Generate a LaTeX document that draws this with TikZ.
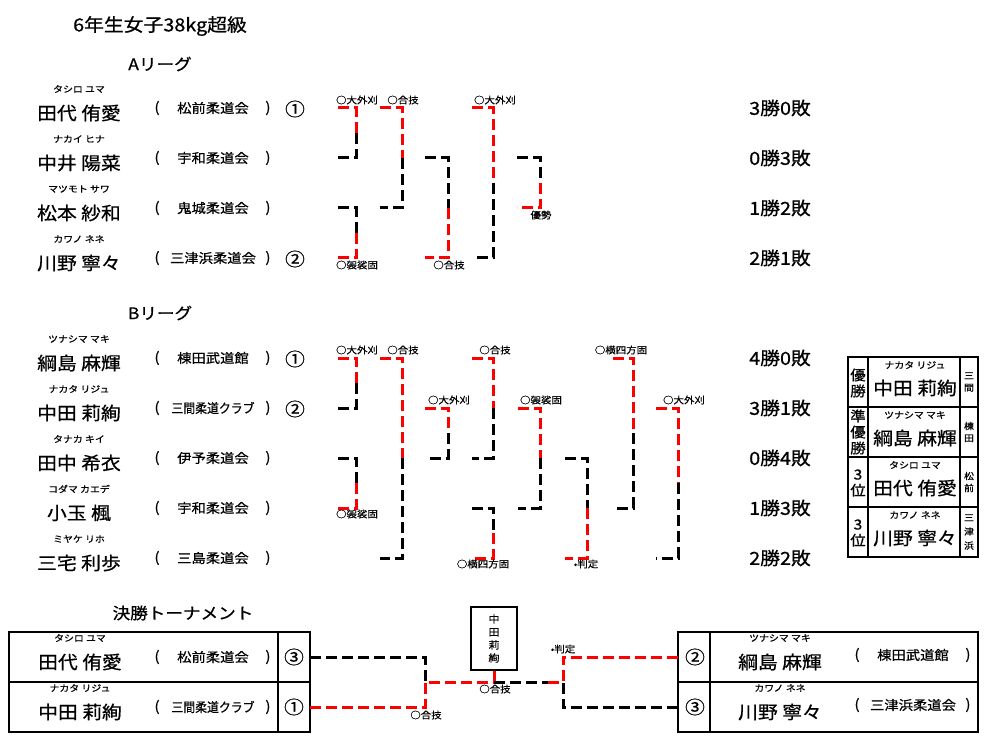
\documentclass[tikz,border=0pt]{standalone}
\usepackage{fontspec}
\setmainfont{Noto Sans CJK JP}[FakeStretch=1.1, FakeBold=0.7]
\usepackage{tikz}
\tikzset{
  winS/.style  ={red,   line width=3pt, dash pattern=on 11pt off 5pt},
  loseS/.style ={black, line width=3pt, dash pattern=on 11pt off 5pt},
  ttl/.style   ={font=\fontsize{18}{18}\selectfont, inner sep=0pt},
  head/.style  ={font=\fontsize{16}{16}\selectfont, inner sep=0pt},
  kana/.style  ={font=\fontsize{9}{9}\selectfont, inner sep=0pt},
  pname/.style ={font=\fontsize{18}{18}\selectfont, inner sep=0pt},
  club/.style  ={font=\fontsize{13}{13}\selectfont, inner sep=0pt},
  paren/.style ={font=\fontsize{14}{14}\selectfont, inner sep=0pt},
  rank/.style  ={font=\fontsize{18}{18}\selectfont, inner sep=0pt},
  score/.style ={font=\fontsize{18}{18}\selectfont, inner sep=0pt},
  waza/.style  ={font=\fontsize{9.5}{9.5}\selectfont, inner sep=0pt},
  vcol/.style  ={font=\fontsize{14}{16}\selectfont, inner sep=0pt, align=center},
  vtiny/.style ={font=\fontsize{9}{12}\selectfont, inner sep=0pt, align=center},
  frame/.style ={draw=black, line width=1.2pt},
}
% one bout: left x, bar x, top y, bottom y
\newcommand{\boutT}[4]{%
  \draw[winS]  (#1,#3) -- (#2,#3) -- (#2,{(#3+#4)/2});
  \draw[loseS] (#2,{(#3+#4)/2}) -- (#2,#4) -- (#1,#4);}
\newcommand{\boutB}[4]{%
  \draw[loseS] (#1,#3) -- (#2,#3) -- (#2,{(#3+#4)/2});
  \draw[winS]  (#2,{(#3+#4)/2}) -- (#2,#4) -- (#1,#4);}
% reading + name, centred at x, club line y
\newcommand{\entrant}[5]{%
  \node[kana]  (#1k) at (#2,#3-19) {#4};
  \node[pname] (#1n) at (#2,#3+5) {#5};}
% club in brackets
\newcommand{\dojo}[4]{%
  \node[paren] (#1po) at (#2-56,#3) {(};
  \node[club]  (#1c)  at (#2,#3) {#4};
  \node[paren] (#1pc) at (#2+55,#3) {)};}

\begin{document}
\begin{tikzpicture}[x=1pt,y=-1pt]
  \useasboundingbox (0,0) rectangle (996,743);
  \fill[white] (0,0) rectangle (996,743);

  \node[ttl]  (title) at (160,26) {6年生女子38kg超級};
  \node[head] (hA) at (160,64) {Aリーグ};
  \node[head] (hB) at (160,313) {Bリーグ};
  \node[head] (hT) at (183,613) {決勝トーナメント};

  % A league
  \entrant{a1}{79}{108}{タシロ ユマ}{田代 侑愛}   \dojo{a1}{213}{108}{松前柔道会}
  \entrant{a2}{79}{158}{ナカイ ヒナ}{中井 陽菜}   \dojo{a2}{213}{158}{宇和柔道会}
  \entrant{a3}{79}{208}{マツモト サワ}{松本 紗和} \dojo{a3}{213}{208}{鬼城柔道会}
  \entrant{a4}{79}{258}{カワノ ネネ}{川野 寧々}   \dojo{a4}{213}{258}{三津浜柔道会}
  \node[rank] (a1rk) at (295,109) {①};
  \node[rank] (a4rk) at (295,259) {②};
  \node[score] (a1s) at (780,108) {3勝0敗};
  \node[score] (a2s) at (780,158) {0勝3敗};
  \node[score] (a3s) at (780,208) {1勝2敗};
  \node[score] (a4s) at (780,258) {2勝1敗};

  \boutT{338}{356}{108}{158} \node[waza] at (357,100) {○大外刈};
  \boutT{380}{402}{108}{208} \node[waza] at (403,100) {○合技};
  \boutB{425}{448}{158}{258} \node[waza] at (449,265) {○合技};
  \boutT{472}{493}{108}{258} \node[waza] at (495,100) {○大外刈};
  \boutB{517}{540}{158}{208} \node[waza] at (541,215) {優勢};
  \boutB{338}{356}{208}{258} \node[waza] at (357,265) {○袈裟固};

  % B league
  \entrant{b1}{79}{358}{ツナシマ マキ}{綱島 麻輝} \dojo{b1}{213}{358}{棟田武道館}
  \entrant{b2}{79}{408}{ナカタ リジュ}{中田 莉絢} \dojo{b2}{213}{408}{\scalebox{0.83}[1]{三間柔道クラブ}}
  \entrant{b3}{79}{458}{タナカ キイ}{田中 希衣}   \dojo{b3}{213}{458}{伊予柔道会}
  \entrant{b4}{79}{508}{コダマ カエデ}{小玉 楓}   \dojo{b4}{213}{508}{宇和柔道会}
  \entrant{b5}{79}{558}{ミヤケ リホ}{三宅 利歩}   \dojo{b5}{213}{558}{三島柔道会}
  \node[rank] (b1rk) at (295,359) {①};
  \node[rank] (b2rk) at (295,409) {②};
  \node[score] (b1s) at (780,358) {4勝0敗};
  \node[score] (b2s) at (780,408) {3勝1敗};
  \node[score] (b3s) at (780,458) {0勝4敗};
  \node[score] (b4s) at (780,508) {1勝3敗};
  \node[score] (b5s) at (780,558) {2勝2敗};

  \boutT{338}{356}{358}{408} \node[waza] at (357,350) {○大外刈};
  \boutT{380}{402}{358}{558} \node[waza] at (403,350) {○合技};
  \boutT{425}{448}{408}{458} \node[waza] at (449,400) {○大外刈};
  \boutT{472}{493}{358}{458} \node[waza] at (495,350) {○合技};
  \boutB{472}{493}{508}{558} \node[waza] at (483,564) {○横四方固};
  \boutT{518}{540}{408}{508} \node[waza] at (541,400) {○袈裟固};
  \boutB{565}{587}{458}{558} \node[waza] at (586,564) {•判定};
  \boutT{613}{633}{358}{508} \node[waza] at (621,350) {○横四方固};
  \boutT{656}{678}{408}{558} \node[waza] at (684,400) {○大外刈};
  \boutB{338}{356}{458}{508} \node[waza] at (357,514) {○袈裟固};

  % placings
  \draw[frame] (848,357) rectangle (978,557);
  \draw[frame] (868,357) -- (868,557);
  \draw[frame] (960,357) -- (960,557);
  \draw[frame] (848,407) -- (978,407);
  \draw[frame] (848,457) -- (978,457);
  \draw[frame] (848,507) -- (978,507);
  \node[vcol] (p1) at (858,383) {優\\勝};
  \node[vcol] (p2) at (858,432) {準\\優\\勝};
  \node[vcol] (p3) at (858,483) {3\\位};
  \node[vcol] (p4) at (858,533) {3\\位};
  \node[kana]  (p1k) at (915,365) {ナカタ リジュ};
  \node[pname] (p1n) at (915,388) {中田 莉絢};
  \node[kana]  (p2k) at (915,415) {ツナシマ マキ};
  \node[pname] (p2n) at (915,438) {綱島 麻輝};
  \node[kana]  (p3k) at (915,465) {タシロ ユマ};
  \node[pname] (p3n) at (915,488) {田代 侑愛};
  \node[kana]  (p4k) at (915,515) {カワノ ネネ};
  \node[pname] (p4n) at (915,538) {川野 寧々};
  \node[vtiny] (p1c) at (969,382) {三\\間};
  \node[vtiny] (p2c) at (969,432) {棟\\田};
  \node[vtiny] (p3c) at (969,482) {松\\前};
  \node[vtiny, font=\fontsize{9}{14}\selectfont] (p4c) at (969,532) {三\\津\\浜};

  % final tournament
  \draw[frame] (9,632) rectangle (310,732);
  \draw[frame] (9,682) -- (310,682);
  \draw[frame] (278,632) -- (278,732);
  \entrant{t1}{80}{657}{タシロ ユマ}{田代 侑愛}   \dojo{t1}{213}{657}{松前柔道会}
  \entrant{t2}{80}{707}{ナカタ リジュ}{中田 莉絢} \dojo{t2}{213}{707}{\scalebox{0.83}[1]{三間柔道クラブ}}
  \node[rank] (t1rk) at (294,657) {③};
  \node[rank] (t2rk) at (294,707) {①};

  \draw[frame] (678,632) rectangle (978,732);
  \draw[frame] (678,682) -- (978,682);
  \draw[frame] (710,632) -- (710,732);
  \entrant{t3}{780}{657}{ツナシマ マキ}{綱島 麻輝} \dojo{t3}{913}{655}{棟田武道館}
  \entrant{t4}{780}{707}{カワノ ネネ}{川野 寧々}   \dojo{t4}{913}{705}{三津浜柔道会}
  \node[rank] (t3rk) at (695,657) {②};
  \node[rank] (t4rk) at (695,707) {③};

  \node[draw, line width=1.2pt, minimum width=46pt, minimum height=63pt,
        font=\fontsize{10}{13}\selectfont, align=center] (champ) at (494,638.5) {中\\田\\莉\\絢};

  \coordinate (fL1) at (310,657);  \coordinate (fL2) at (310,707);
  \coordinate (sfL) at (425,682);  \coordinate (sfR) at (563,682);
  \coordinate (fR1) at (678,657);  \coordinate (fR2) at (678,707);
  \draw[loseS] (fL1) -- (fL1 -| sfL) -- (sfL);
  \draw[winS]  (fL2) -- (fL2 -| sfL) -- (sfL) -- (champ.south |- sfL);
  \draw[winS]  (champ.south) -- (champ.south |- sfL);
  \draw[loseS] (champ.south |- sfL) -- (548,682);
  \draw[winS]  (548,682) -- (sfR);
  \draw[winS]  (fR1) -- (fR1 -| sfR) -- (sfR);
  \draw[loseS] (fR2) -- (fR2 -| sfR) -- (sfR);
  \node[waza] at (426,715) {○合技};
  \node[waza] at (495,689) {○合技};
  \node[waza] at (563,649) {•判定};
\end{tikzpicture}
\end{document}
